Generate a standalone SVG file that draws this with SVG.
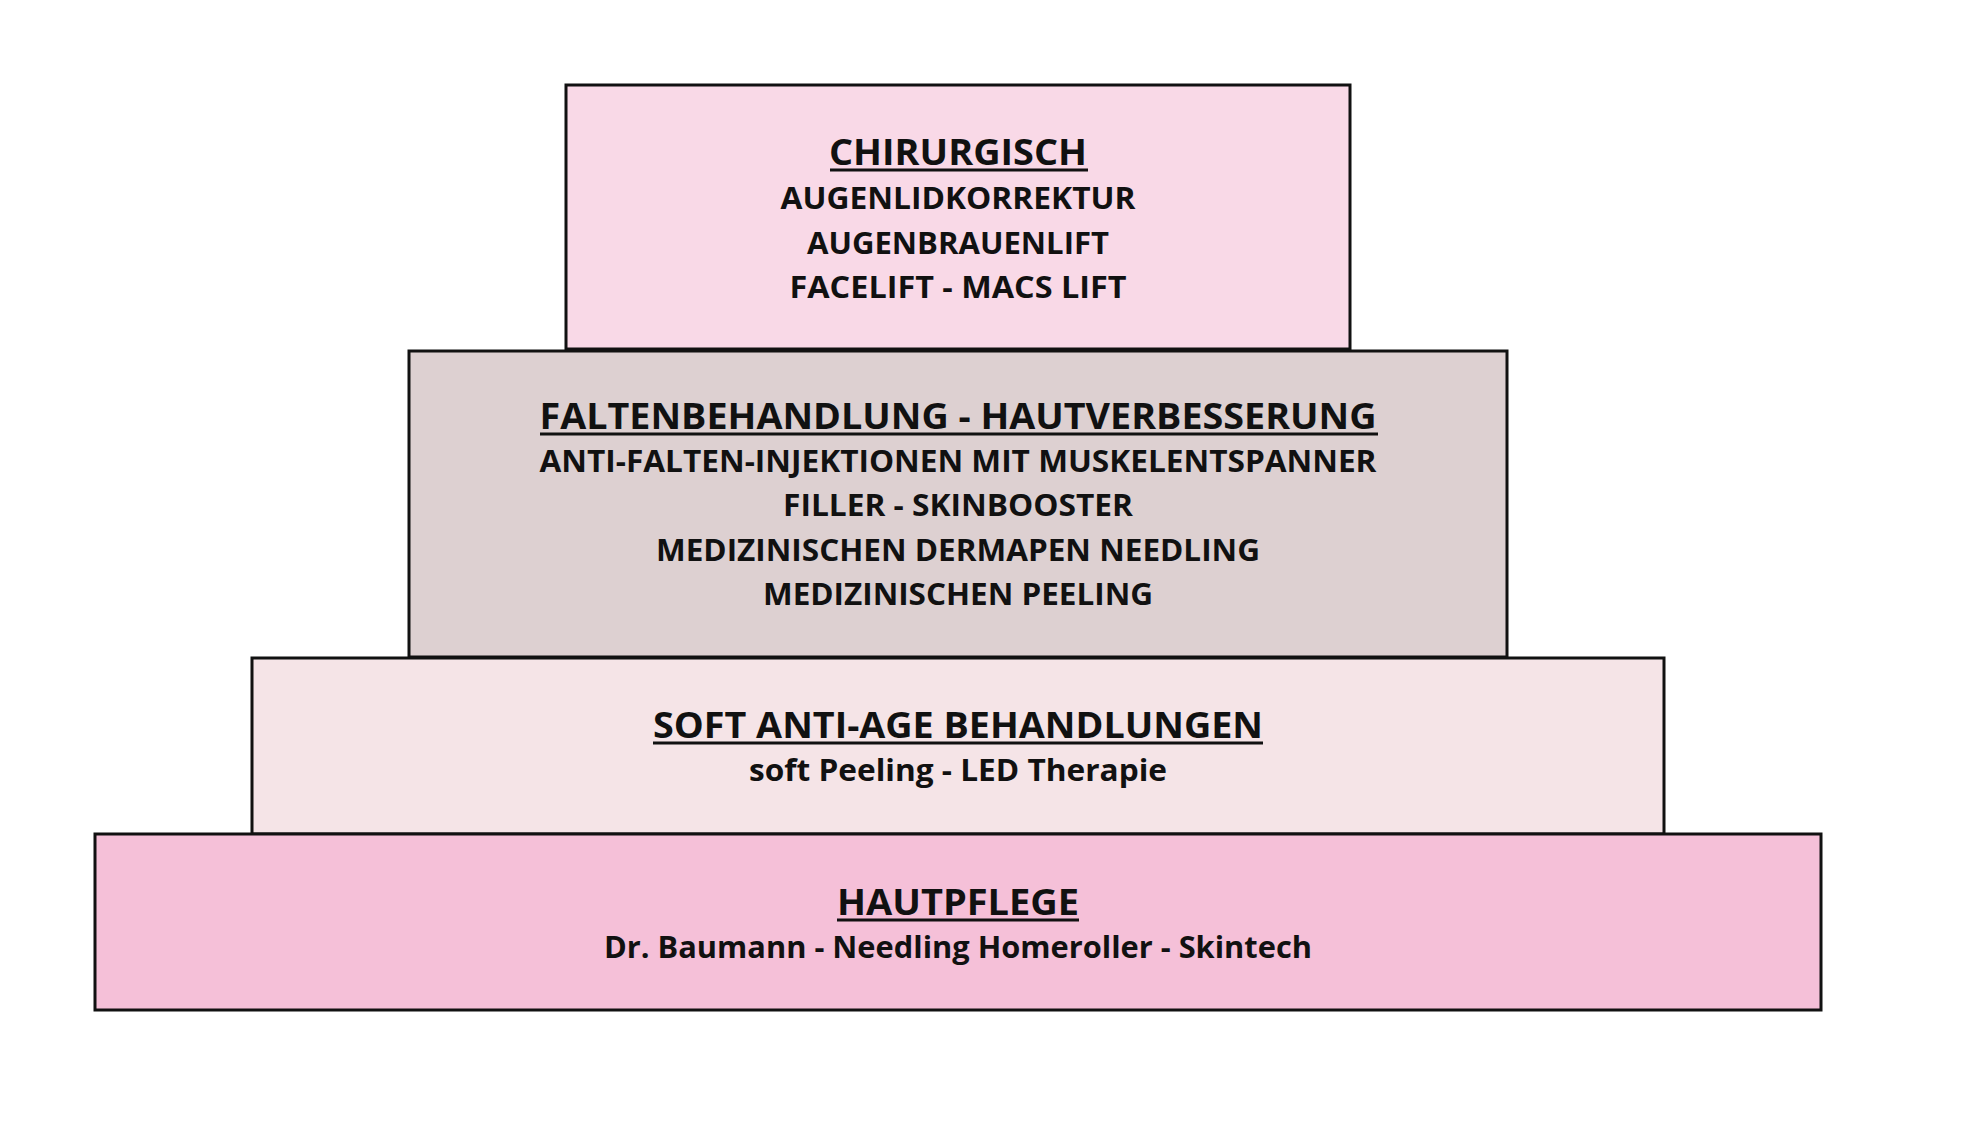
<svg xmlns="http://www.w3.org/2000/svg" width="1980" height="1130" viewBox="0 0 1980 1130">
<style>
.box{stroke:#111;stroke-width:3}
text{font-family:"Open Sans","Liberation Sans",sans-serif;font-weight:700;fill:#111;text-anchor:middle}
.t{font-size:36px}
.s{font-size:30px}
.u{stroke:#111;stroke-width:3}
</style>
<rect width="1980" height="1130" fill="#ffffff"/>
<g id="chirurgisch">
<rect class="box" x="566" y="85" width="784" height="264" fill="#f9d9e7"/>
<text class="t" x="958" y="165" textLength="258" lengthAdjust="spacingAndGlyphs">CHIRURGISCH</text>
<line class="u" x1="830" y1="170" x2="1088" y2="170"/>
<text class="s" x="958" y="209" textLength="355" lengthAdjust="spacingAndGlyphs">AUGENLIDKORREKTUR</text>
<text class="s" x="958" y="254" textLength="302" lengthAdjust="spacingAndGlyphs">AUGENBRAUENLIFT</text>
<text class="s" x="958" y="298" textLength="337" lengthAdjust="spacingAndGlyphs">FACELIFT - MACS LIFT</text>
</g>
<g id="faltenbehandlung">
<rect class="box" x="409" y="351" width="1098" height="306" fill="#ddd0d1"/>
<text class="t" x="958" y="429" textLength="837" lengthAdjust="spacingAndGlyphs">FALTENBEHANDLUNG - HAUTVERBESSERUNG</text>
<line class="u" x1="540" y1="434" x2="1378" y2="434"/>
<text class="s" x="958" y="472" textLength="837" lengthAdjust="spacingAndGlyphs">ANTI-FALTEN-INJEKTIONEN MIT MUSKELENTSPANNER</text>
<text class="s" x="958" y="516" textLength="350" lengthAdjust="spacingAndGlyphs">FILLER - SKINBOOSTER</text>
<text class="s" x="958" y="561" textLength="604" lengthAdjust="spacingAndGlyphs">MEDIZINISCHEN DERMAPEN NEEDLING</text>
<text class="s" x="958" y="605" textLength="390" lengthAdjust="spacingAndGlyphs">MEDIZINISCHEN PEELING</text>
</g>
<g id="soft-anti-age">
<rect class="box" x="252" y="658" width="1412" height="176" fill="#f5e4e7"/>
<text class="t" x="958" y="738" textLength="610" lengthAdjust="spacingAndGlyphs">SOFT ANTI-AGE BEHANDLUNGEN</text>
<line class="u" x1="653" y1="743" x2="1263" y2="743"/>
<text class="s" x="958" y="781" textLength="418" lengthAdjust="spacingAndGlyphs">soft Peeling - LED Therapie</text>
</g>
<g id="hautpflege">
<rect class="box" x="95" y="834" width="1726" height="176" fill="#f5c0d8"/>
<text class="t" x="958" y="915" textLength="242" lengthAdjust="spacingAndGlyphs">HAUTPFLEGE</text>
<line class="u" x1="837" y1="920" x2="1079" y2="920"/>
<text class="s" x="958" y="958" textLength="708" lengthAdjust="spacingAndGlyphs">Dr. Baumann - Needling Homeroller - Skintech</text>
</g>
<g id="connectors"></g>
</svg>
